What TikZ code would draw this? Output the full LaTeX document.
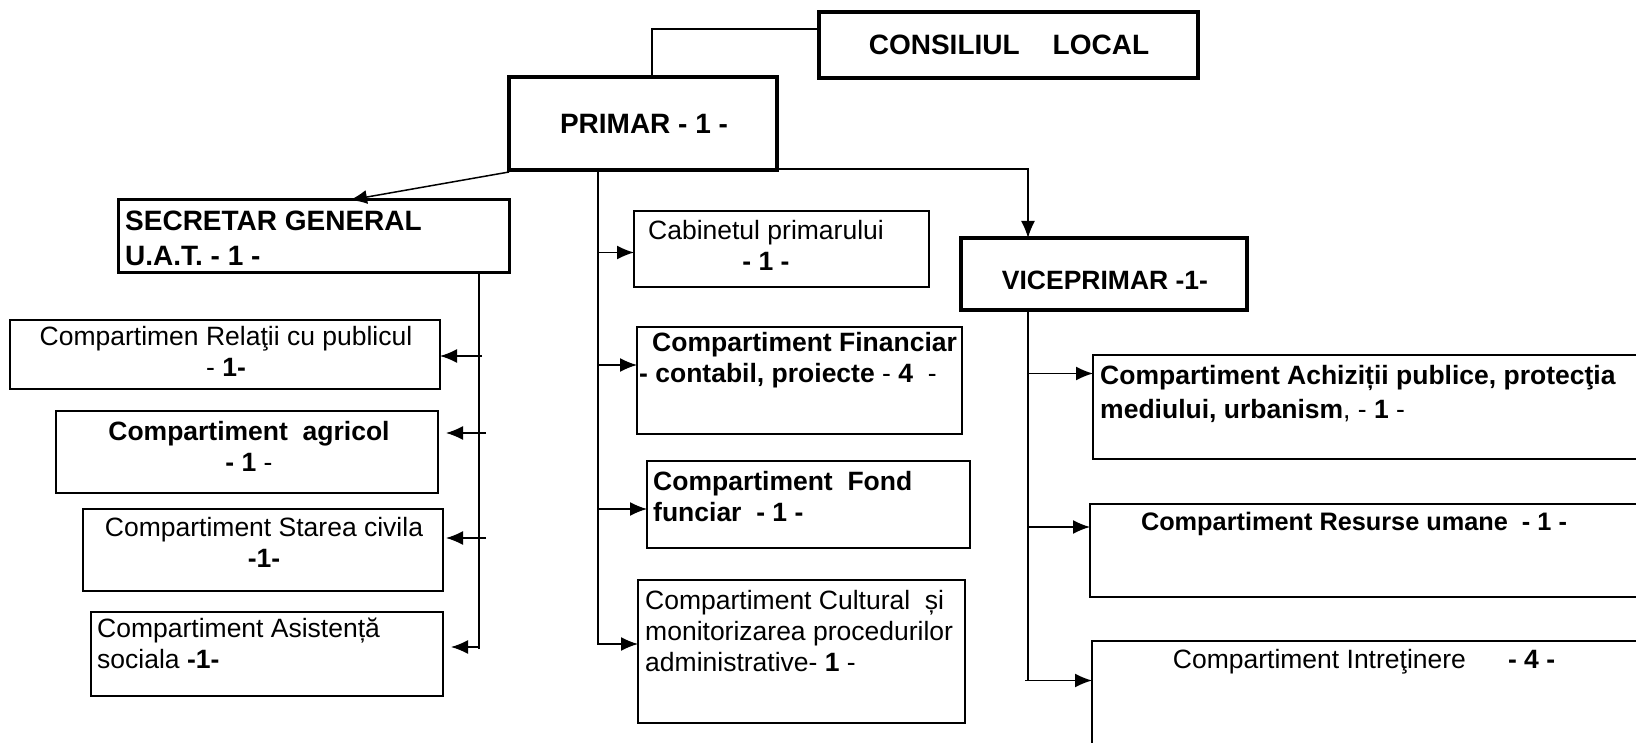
\documentclass[tikz,border=0pt]{standalone}
\usepackage{fontspec}
\setmainfont{Liberation Sans}
\usetikzlibrary{arrows.meta}
\begin{document}
\begin{tikzpicture}[x=1pt,y=-1pt,
  bx/.style={draw, line width=1.5pt, inner sep=0pt, outer sep=0pt, anchor=north west},
  thickbx/.style={bx, line width=4pt},
  midbx/.style={bx, line width=3pt},
  txt/.style={inner sep=0pt, font=\fontsize{26.5}{31}\selectfont},
  bigtxt/.style={inner sep=0pt, font=\fontsize{28}{34.5}\selectfont\bfseries},
  ln/.style={line width=1.5pt},
  arr/.style={line width=1.5pt, -{Latex[length=17pt,width=14pt]}}
]
\useasboundingbox (0,0) rectangle (1636,743);
\fill[white] (0,0) rectangle (1636,743);

% boxes
\node[thickbx, minimum width=379pt, minimum height=65.5pt] (cl) at (819,12.5) {};
\node[thickbx, minimum width=268pt, minimum height=93pt] (pr) at (509,77) {};
\node[midbx, minimum width=391pt, minimum height=73pt] (sec) at (118,200) {};
\node[thickbx, minimum width=286pt, minimum height=72pt] (vp) at (961,238) {};
\node[bx, minimum width=430pt, minimum height=69pt] (rel) at (10,320) {};
\node[bx, minimum width=382pt, minimum height=82pt] (agr) at (56,411) {};
\node[bx, minimum width=360pt, minimum height=82pt] (civ) at (83,509) {};
\node[bx, minimum width=352pt, minimum height=84pt] (asi) at (91,612) {};
\node[bx, minimum width=295pt, minimum height=76pt] (cab) at (634,211) {};
\node[bx, minimum width=325pt, minimum height=107pt] (fin) at (637,327) {};
\node[bx, minimum width=323pt, minimum height=87pt] (fon) at (647,461) {};
\node[bx, minimum width=327pt, minimum height=143pt] (cul) at (638,580) {};
\node[bx, minimum width=552pt, minimum height=104pt] (ach) at (1093,355) {};
\node[bx, minimum width=555pt, minimum height=93pt] (res) at (1090,504) {};
\node[bx, minimum width=553pt, minimum height=110pt] (int) at (1092,641) {};

% texts
\node[bigtxt] (clt) at (1009,45) {CONSILIUL\hspace{33pt}LOCAL};
\node[bigtxt] (prt) at (644,124) {PRIMAR - 1 -};
\node[bigtxt, anchor=north west, align=left] (sect) at (125,211) {SECRETAR GENERAL\\U.A.T. - 1 -};
\node[bigtxt, font=\fontsize{26.5}{31}\selectfont\bfseries] (vpt) at (1105,280) {VICEPRIMAR -1-};
\node[txt, anchor=north, align=center] (relt) at (226,326) {Compartimen Relaţii cu publicul\\- \textbf{1-}};
\node[txt, anchor=north, align=center] (agrt) at (249,421) {\textbf{Compartiment\ \ agricol}\\\textbf{- 1} -};
\node[txt, anchor=north, align=center] (civt) at (264,517) {Compartiment Starea civila\\\textbf{-1-}};
\node[txt, anchor=north west, align=left] (asit) at (97,618) {Compartiment Asistență\\sociala \textbf{-1-}};
\node[txt, anchor=north, align=center] (cabt) at (766,220) {Cabinetul primarului\\\textbf{- 1 -}};
\node[txt, anchor=north west, align=left] (fint) at (639,332) {\hspace*{13pt}\textbf{Compartiment Financiar}\\\textbf{- contabil, proiecte} - \textbf{4}\ \ -};
\node[txt, anchor=north west, align=left] (font) at (653,471) {\textbf{Compartiment\ \ Fond}\\\textbf{funciar\ \ - 1 -}};
\node[txt, anchor=north west, align=left] (cult) at (645,590) {Compartiment Cultural\ \ și\\monitorizarea procedurilor\\administrative- \textbf{1} -};
\node[txt, anchor=north west, align=left, font=\fontsize{26.5}{34}\selectfont] (acht) at (1100,365) {\textbf{Compartiment Achiziții publice, protecţia}\\\textbf{mediului, urbanism}, - \textbf{1} -};
\node[txt, anchor=north, font=\fontsize{25.3}{30}\selectfont] (rest) at (1354,512) {\textbf{Compartiment Resurse umane\ \ - 1 -}};
\node[txt, anchor=north] (intt) at (1364,649) {Compartiment Intreţinere\hspace{42pt}\textbf{- 4 -}};

% trunk coordinates
\coordinate (clj) at (652,29);
\coordinate (pt) at (598,645);
\coordinate (st) at (479,649);
\coordinate (vt) at (1028,681);

% consiliul - primar
\draw[ln] (cl.west |- clj) -- (clj) -- (clj |- pr.north);
% primar - secretar
\draw[arr] ([yshift=-2pt]pr.south west) -- ([xshift=36.5pt]sec.north);
% primar - viceprimar
\draw[arr] ([yshift=1pt]pr.south east) -| (vt |- vp.north);

% trunks
\draw[ln] (pt |- pr.south) -- (pt);
\draw[ln] (st |- sec.south) -- (st);
\draw[ln] (vt |- vp.south) -- (vt);

% middle arrows
\path ([yshift=-3.5pt]cab.west) coordinate (ecab);
\draw[arr] (pt |- ecab) -- (ecab);
\path ([yshift=15.5pt]fin.west) coordinate (efin);
\draw[arr] (pt |- efin) -- (efin);
\path ([yshift=-4.5pt]fon.west) coordinate (efon);
\draw[arr] (pt |- efon) -- (efon);
\path ([yshift=7.5pt]cul.west) coordinate (ecul);
\draw[arr] (pt |- ecul) -- (ecul);

% left arrows
\path ([yshift=-1.5pt]rel.east) coordinate (erel);
\draw[arr] ([xshift=3pt]st |- erel) -- (erel);
\path ([xshift=8pt,yshift=19pt]agr.east) coordinate (eagr);
\draw[arr] ([xshift=7pt]st |- eagr) -- (eagr);
\path ([xshift=3pt,yshift=12pt]civ.east) coordinate (eciv);
\draw[arr] ([xshift=7pt]st |- eciv) -- (eciv);
\path ([xshift=8pt,yshift=7pt]asi.east) coordinate (easi);
\draw[arr] (st |- easi) -- (easi);

% right arrows
\path ([yshift=33.5pt]ach.west) coordinate (each);
\draw[arr] (vt |- each) -- (each);
\path ([yshift=23.5pt]res.west) coordinate (eres);
\draw[arr] (vt |- eres) -- (eres);
\path ([yshift=15.5pt]int.west) coordinate (eint);
\draw[arr] ([xshift=-3pt]vt |- eint) -- (eint);
\end{tikzpicture}
\end{document}
